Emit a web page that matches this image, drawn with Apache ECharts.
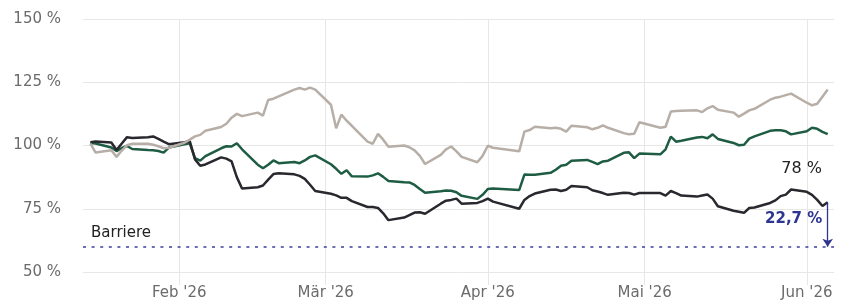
<!DOCTYPE html>
<html lang="de">
<head>
<meta charset="utf-8">
<title>Barriere</title>
<script src="https://cdn.jsdelivr.net/npm/echarts@6/dist/echarts.min.js"></script>
<style>
    html, body { margin: 0; padding: 0; background: #ffffff; }
    #chart { width: 847px; height: 303px; }
</style>
</head>
<body>
<div id="chart"></div>
<script>
// Handelstage
const dates = [
    '2026-01-15', '2026-01-16', '2026-01-19', '2026-01-20', '2026-01-21', '2026-01-22', '2026-01-23',
    '2026-01-26', '2026-01-27', '2026-01-28', '2026-01-29', '2026-01-30',
    '2026-02-02', '2026-02-03', '2026-02-04', '2026-02-05', '2026-02-06',
    '2026-02-09', '2026-02-10', '2026-02-11', '2026-02-12', '2026-02-13',
    '2026-02-16', '2026-02-17', '2026-02-18', '2026-02-19', '2026-02-20',
    '2026-02-23', '2026-02-24', '2026-02-25', '2026-02-26', '2026-02-27',
    '2026-03-02', '2026-03-03', '2026-03-04', '2026-03-05', '2026-03-06',
    '2026-03-09', '2026-03-10', '2026-03-11', '2026-03-12', '2026-03-13',
    '2026-03-16', '2026-03-17', '2026-03-18', '2026-03-19', '2026-03-20',
    '2026-03-23', '2026-03-24', '2026-03-25', '2026-03-26', '2026-03-27',
    '2026-03-30', '2026-03-31', '2026-04-01', '2026-04-02',
    '2026-04-07', '2026-04-08', '2026-04-09', '2026-04-10',
    '2026-04-13', '2026-04-14', '2026-04-15', '2026-04-16', '2026-04-17',
    '2026-04-20', '2026-04-21', '2026-04-22', '2026-04-23', '2026-04-24',
    '2026-04-27', '2026-04-28', '2026-04-29', '2026-04-30',
    '2026-05-04', '2026-05-05', '2026-05-06', '2026-05-07', '2026-05-08',
    '2026-05-11', '2026-05-12', '2026-05-13', '2026-05-14', '2026-05-15',
    '2026-05-18', '2026-05-19', '2026-05-20', '2026-05-21', '2026-05-22',
    '2026-05-25', '2026-05-26', '2026-05-27', '2026-05-28', '2026-05-29',
    '2026-06-01', '2026-06-02', '2026-06-03', '2026-06-04', '2026-06-05'
];

// Wertentwicklung in %
const wertGrau = [
    100.7, 97.2, 98.1, 95.5, 98.0, 100.1, 100.7,
    100.7, 100.3, 99.7, 98.9, 99.1,
    101.1, 102.3, 103.6, 104.2, 105.8,
    107.3, 108.6, 111.0, 112.5, 111.6,
    113.0, 111.8, 118.0, 118.5, 119.4,
    122.1, 122.7, 122.1, 122.9, 122.1,
    116.1, 106.8, 112.2, 109.8, 107.8,
    101.5, 100.7, 104.6, 102.3, 99.5,
    100.0, 99.3, 98.1, 95.9, 92.7,
    96.3, 98.5, 99.6, 97.7, 95.5,
    93.4, 95.9, 99.9, 99.1,
    97.7, 105.5, 106.1, 107.4,
    106.8, 107.0, 106.6, 105.5, 107.8,
    107.2, 106.4, 107.0, 108.0, 107.0,
    104.9, 104.4, 104.6, 109.2,
    107.0, 107.4, 113.4, 113.6, 113.7,
    113.9, 113.2, 114.7, 115.6, 114.1,
    113.0, 111.4, 112.6, 113.9, 114.5,
    118.1, 118.9, 119.3, 119.9, 120.5,
    116.9, 115.9, 116.5, 119.3, 122.1
];
const wertGruen = [
    101.0, 100.8, 99.2, 97.8, 99.0, 99.8, 98.6,
    98.2, 98.1, 97.8, 97.2, 99.2,
    100.5, 100.9, 95.0, 94.0, 95.8,
    98.9, 99.7, 99.6, 100.9, 98.5,
    92.4, 91.0, 92.4, 94.1, 93.0,
    93.5, 93.0, 94.1, 95.5, 96.1,
    92.6, 90.8, 88.8, 90.2, 87.8,
    87.7, 88.2, 89.0, 87.6, 86.0,
    85.5, 85.4, 84.4, 82.8, 81.3,
    81.9, 82.2, 82.1, 81.5, 80.1,
    78.9, 80.5, 82.8, 83.0,
    82.4, 88.5, 88.4, 88.4,
    89.2, 90.4, 92.0, 92.4, 94.0,
    94.3, 93.5, 92.6, 93.7, 94.0,
    97.1, 97.3, 95.0, 96.8,
    96.5, 98.5, 103.5, 101.5, 101.9,
    103.2, 103.4, 102.9, 104.4, 102.6,
    101.0, 100.1, 100.3, 102.7, 103.6,
    105.8, 106.0, 106.0, 105.6, 104.4,
    105.6, 107.0, 106.6, 105.4, 104.5
];
const wertSchwarz = [
    101.3, 101.6, 101.2, 98.2, 100.8, 103.3, 103.0,
    103.3, 103.6, 102.6, 101.5, 100.5,
    101.3, 101.7, 94.5, 92.0, 92.5,
    95.3, 94.8, 93.7, 87.5, 83.0,
    83.5, 84.2, 86.5, 88.7, 89.0,
    88.6, 88.0, 86.8, 84.5, 82.0,
    80.9, 80.3, 79.3, 79.3, 78.0,
    75.7, 75.7, 75.3, 73.2, 70.5,
    71.5, 72.5, 73.5, 73.6, 73.0,
    77.0, 78.2, 78.5, 79.0, 77.0,
    77.3, 78.0, 79.0, 77.8,
    75.0, 78.5, 80.0, 81.0,
    82.5, 82.6, 82.0, 82.5, 84.0,
    83.5, 82.3, 81.8, 81.2, 80.5,
    81.3, 81.2, 80.6, 81.2,
    81.2, 80.2, 82.0, 81.2, 80.2,
    79.8, 80.2, 80.6, 79.0, 76.0,
    74.2, 73.8, 73.4, 75.3, 75.5,
    77.3, 78.3, 80.0, 80.6, 82.6,
    81.7, 80.5, 78.5, 76.1, 77.6
];

const barriere = 60;
const yTicks = [50, 75, 100, 125, 150];
const monatsTicks = ['2026-02-01', '2026-03-01', '2026-04-01', '2026-05-01', '2026-06-01'];
const monatsNamen = ['Jan', 'Feb', 'Mär', 'Apr', 'Mai', 'Jun', 'Jul', 'Aug', 'Sep', 'Okt', 'Nov', 'Dez'];

function toTime(s) {
    const p = s.split('-');
    return new Date(+p[0], +p[1] - 1, +p[2]).getTime();
}

function paare(werte) {
    return dates.map(function (d, i) { return [toTime(d), werte[i]]; });
}

const letzterTag = toTime(dates[dates.length - 1]);
const letzterWert = wertSchwarz[wertSchwarz.length - 1];
const abstand = ((1 - barriere / letzterWert) * 100).toFixed(1).replace('.', ',') + ' %';

const gridFarbe = '#e7e7e7';
const blau = '#2e3590';
const schrift = 'DejaVu Sans';

const chart = echarts.init(document.getElementById('chart'));

const option = {
    animation: false,
    textStyle: { fontFamily: schrift },
    grid: { left: 83, right: 13, top: 19, bottom: 31 },
    xAxis: {
        type: 'value',
        min: new Date(2026, 0, 13, 14).getTime(),
        max: new Date(2026, 5, 6, 5).getTime(),
        axisLine: { show: false },
        axisTick: {
            show: true,
            length: 13,
            customValues: monatsTicks.map(toTime),
            lineStyle: { color: gridFarbe, width: 1 }
        },
        splitLine: { show: true, lineStyle: { color: gridFarbe, width: 1 } },
        axisLabel: {
            customValues: monatsTicks.map(toTime),
            margin: 14,
            color: '#6b6b6b',
            fontSize: 15,
            fontFamily: schrift,
            formatter: function (v) {
                const d = new Date(v);
                return monatsNamen[d.getMonth()] + " '" + String(d.getFullYear()).slice(2);
            }
        }
    },
    yAxis: {
        type: 'value',
        min: yTicks[0],
        max: yTicks[yTicks.length - 1],
        interval: 25,
        axisLine: { show: false },
        axisTick: { show: false },
        splitLine: { lineStyle: { color: gridFarbe, width: 1 } },
        axisLabel: {
            margin: 22,
            color: '#6b6b6b',
            fontSize: 15,
            fontFamily: schrift,
            formatter: function (v) { return v + ' %'; }
        }
    },
    series: [
        {
            name: 'Grün',
            type: 'line',
            data: paare(wertGruen),
            showSymbol: false,
            lineStyle: { color: '#1e5c43', width: 2.5 },
            itemStyle: { color: '#1e5c43' },
            markLine: {
                silent: true,
                symbol: ['none', 'none'],
                lineStyle: { color: '#3a409a', width: 1.5, type: [3, 5.6] },
                label: {
                    show: true,
                    position: 'insideStartTop',
                    formatter: 'Barriere',
                    color: '#222222',
                    fontSize: 15,
                    fontFamily: schrift,
                    distance: [8, 6]
                },
                data: [{ yAxis: barriere }]
            }
        },
        {
            name: 'Schwarz',
            type: 'line',
            data: paare(wertSchwarz),
            showSymbol: false,
            lineStyle: { color: '#28282e', width: 2.5 },
            itemStyle: { color: '#28282e' },
            markLine: {
                silent: true,
                symbol: ['none', 'arrow'],
                symbolSize: 8,
                lineStyle: { color: blau, width: 1.3, type: 'solid' },
                itemStyle: { color: blau },
                label: { show: false },
                data: [[
                    { coord: [letzterTag, letzterWert] },
                    { coord: [letzterTag, barriere] }
                ]]
            },
            markPoint: {
                silent: true,
                symbol: 'circle',
                symbolSize: 1,
                itemStyle: { color: 'rgba(0,0,0,0)' },
                data: [
                    {
                        coord: [letzterTag, letzterWert],
                        label: {
                            show: true,
                            formatter: Math.round(letzterWert) + ' %',
                            position: 'inside',
                            offset: [-26, -33],
                            color: '#222222',
                            fontSize: 16,
                            fontFamily: schrift
                        }
                    },
                    {
                        coord: [letzterTag, letzterWert],
                        label: {
                            show: true,
                            formatter: abstand,
                            position: 'inside',
                            offset: [-34, 17],
                            color: blau,
                            fontSize: 15,
                            fontWeight: 'bold',
                            fontFamily: schrift
                        }
                    }
                ]
            }
        },
        {
            name: 'Grau',
            type: 'line',
            data: paare(wertGrau),
            showSymbol: false,
            lineStyle: { color: '#b7afa7', width: 2.5 },
            itemStyle: { color: '#b7afa7' }
        }
    ]
};

chart.setOption(option);
</script>
</body>
</html>
